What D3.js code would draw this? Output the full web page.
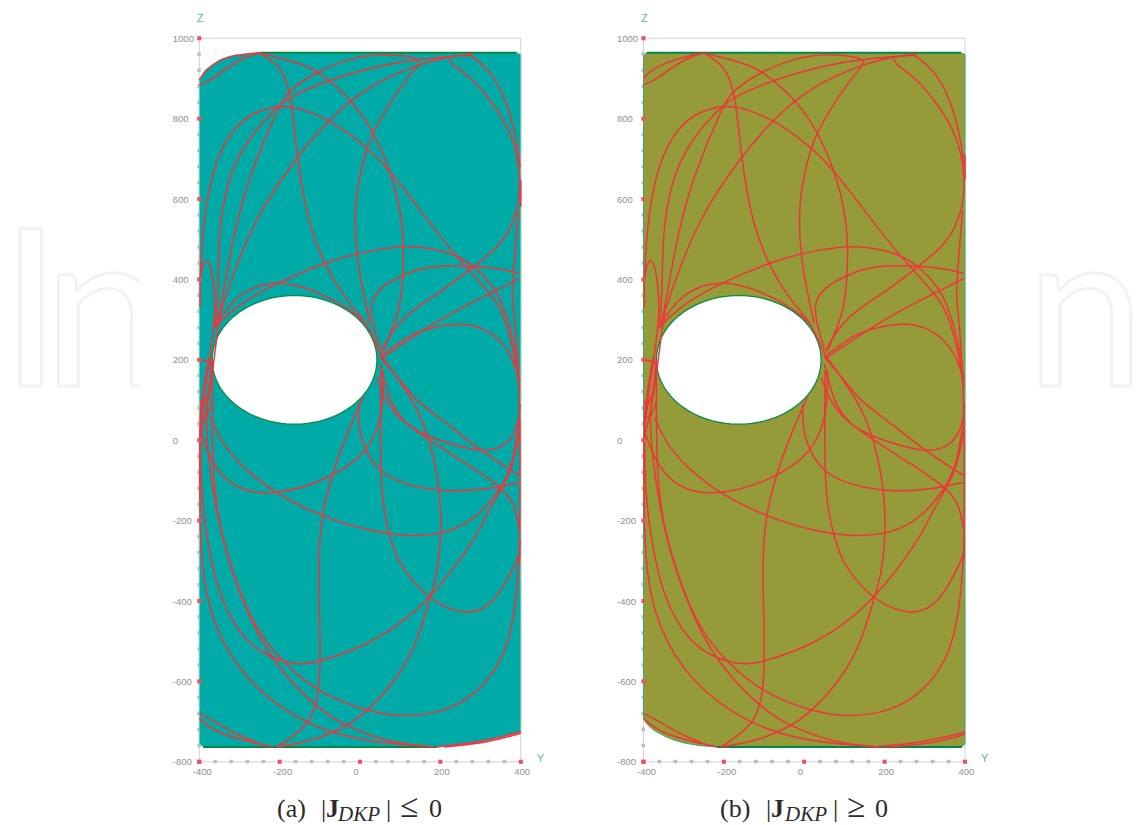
<!DOCTYPE html>
<html><head><meta charset="utf-8">
<style>html,body{margin:0;background:#fff;overflow:hidden}svg{display:block}</style>
<script src="https://cdn.jsdelivr.net/npm/d3@7"></script></head>
<body><svg id="c" width="1145" height="825"></svg>
<script>
const zMajor=[1000,800,600,400,200,0,-200,-400,-600,-800];
const yMajor=[-400,-200,0,200,400];
const zMinor=d3.range(-800,1001,40);
const yMinor=d3.range(-400,401,40);
const panelTitles=[["(a)","≤"],["(b)","≥"]];

const holeCenter=[-163,200];
const holeRadii=[205,160];

const outlineA=[[-400,896],[-385,921],[-350,946],[-315,958],[-250,964],[390,964],[400,960],[400,-725],[350,-740],[307,-750],[250,-758],[190,-763],[-390,-763],[-400,-755]];
const outlineB=[[-400,955],[-392,964],[390,964],[400,960],[400,-755],[392,-763],[-217,-763],[-259,-760],[-295,-754],[-325,-746],[-350,-735],[-375,-721],[-390,-708],[-400,-692]];

const curveA=[[-400,884],[-369,896],[-324,933],[-274,958],[-249,963]];
const curveB=[[-249,963],[-203,934],[-183,896],[-170,838],[-162,763],[-156,705],[-141,606],[-124,531],[-91,440],[-41,357],[8,302],[25,273],[50,215]];
const curveC=[[-249,963],[-149,938],[-104,919],[-21,848],[33,769],[75,672],[100,581],[110,482],[105,375],[96,315],[58,223]];
const curveD1=[[-398,330],[-398,431],[-386,581],[-357,705],[-315,776],[-266,817],[-199,834],[-149,826],[-75,797],[17,730],[75,672],[224,473],[266,431],[307,382],[349,339],[382,231],[397,132]];
const curveD2=[[-361,281],[-353,357],[-353,514],[-332,639],[-290,739],[-207,830],[-174,855],[-75,898],[58,934],[141,948],[274,958]];
const curveD3=[[-357,281],[-342,357],[-315,514],[-274,664],[-203,830],[-178,871],[-104,919],[-25,950],[58,963],[141,952],[150,942],[145,934]];
const curveD4=[[-357,286],[-336,357],[-266,548],[-158,705],[-79,797],[17,880],[141,934],[216,954],[282,961]];
const curveE=[[145,934],[83,855],[33,768],[17,730],[-8,631],[-14,548],[-8,456],[8,365],[25,290]];
const curveF=[[222,950],[228,934],[274,905],[332,838],[382,755],[400,664],[396,573],[357,490],[286,434],[208,373],[116,315],[75,265],[50,215]];
const curveG=[[274,958],[324,921],[365,846],[390,747],[398,680]];
const curveH1=[[-357,286],[-290,348],[-191,398],[-91,440],[-8,465],[83,482],[158,482],[232,465],[286,434],[340,373],[357,331],[382,256],[397,149]];
const curveH2=[[-361,281],[-315,356],[-241,392],[-174,392],[-91,364],[-8,315],[17,286]];
const curveI=[[397,415],[340,430],[224,436],[158,430],[108,411],[58,386],[33,357],[25,331],[33,281],[50,227]];
const curveJ=[[397,402],[307,357],[191,298],[58,207]];
const curveK=[[50,207],[125,265],[183,281],[257,294],[324,273],[374,223],[397,149]];
const curveL1=[[50,207],[108,140],[141,95],[224,37],[299,-26],[397,-88]];
const curveL2=[[42,157],[66,90],[116,37],[174,7],[249,-17],[315,-30],[365,-13],[394,32],[398,90]];
const curveL3=[[50,190],[75,90],[108,45],[174,-1],[266,-59],[353,-117],[386,-159],[397,-225]];
const curveM=[[-4,90],[-4,24],[17,-34],[50,-80],[108,-109],[199,-128],[307,-125],[394,-105]];
const curveN=[[58,173],[58,57],[17,-34],[-75,-96],[-207,-138],[-307,-125],[-365,-67],[-398,24]];
const curveO=[[-373,57],[-340,-17],[-274,-84],[-207,-134],[-100,-188],[17,-225],[141,-244],[266,-221],[349,-125],[378,-67],[397,49]];
const curveP=[[52,173],[50,-75],[58,-175],[83,-275],[108,-323],[170,-397],[266,-440],[340,-406],[398,-281]];
const curveQ=[[8,107],[-41,-1],[-91,-150],[-104,-275],[-102,-397],[-98,-551],[-104,-638],[-124,-709],[-207,-763]];
const curveR2=[[50,215],[141,90],[174,-1],[199,-117],[203,-240],[191,-339],[170,-406],[141,-505],[91,-597],[17,-675],[-33,-713],[-124,-750],[-207,-763]];
const curveR=[[398,-248],[394,-331],[382,-456],[349,-563],[274,-646],[191,-680],[100,-689],[8,-671],[-100,-630],[-191,-555],[-274,-456],[-344,-248],[-365,-130],[-378,-40],[-385,60],[-375,130],[-368,200]];
const curveT=[[397,24],[378,-75],[353,-117],[307,-200],[286,-248],[174,-397],[91,-464],[8,-514],[-100,-551],[-149,-560],[-224,-543],[-290,-497],[-349,-397],[-382,-248],[-396,-120],[-398,20],[-392,120],[-375,210]];
const curveU=[[-368,190],[-368,50],[-366,-100],[-346,-248],[-282,-431],[-216,-555],[-108,-667],[-33,-713],[75,-753],[183,-763]];
const curveV=[[-395,100],[-399,30],[-399,-100],[-398,-248],[-386,-389],[-340,-514],[-266,-613],[-166,-688],[-58,-734],[58,-754],[183,-763]];
const curveW1=[[-400,-692],[-369,-721],[-299,-746],[-216,-763]];
const curveW2=[[-400,-680],[-373,-692],[-315,-729],[-241,-759]];
const curveRv=[[394,573],[382,431],[378,348],[382,339],[394,173],[398,49],[398,-100],[397,-300]];
const curveBump=[[-398,400],[-390,450],[-373,446],[-365,390],[-361,348],[-362,300],[-372,220],[-385,130],[-396,40]];
const curveLoop=[[-398,200],[-385,197],[-372,197],[-367,180],[-373,120],[-388,90],[-397,70],[-392,50],[-375,70],[-367,100]];
const curveCross=[[-398,5],[-385,60],[-372,130],[-360,230],[-345,340]];

const sharedCurves=[curveA,curveB,curveC,curveD1,curveD2,curveD3,curveD4,curveE,curveF,curveG,curveH1,curveH2,curveI,curveJ,curveK,curveL1,curveL2,curveL3,curveM,curveN,curveO,curveP,curveQ,curveR2,curveR,curveT,curveU,curveV,curveW2,curveRv,curveBump,curveLoop,curveCross];

const edgeA=[[-400,896],[-385,921],[-350,946],[-315,958],[-250,964]];
const arcA1=[[190,-763],[307,-750],[400,-725]];
const arcA2=[[210,-763],[320,-752],[400,-729]];
const extraB=[[-400,900],[-378,925],[-320,948],[-265,962]];
const arcB1=[[170,-763],[300,-752],[400,-726]];
const arcB2=[[200,-763],[320,-755],[400,-731]];
const rightRedA=[[400,647],[400,581]];
const rightRedB=[[400,710],[400,650]];

const panels=[
 {x0:199.3,x1:520.8,fill:"#00aba7",outline:outlineA,extra:[edgeA,curveW1,arcA1,arcA2,rightRedA],idx:0,cap:[277,321,326,338,386,400,429]},
 {x0:643.5,x1:965,fill:"#949b38",outline:outlineB,extra:[extraB,curveW1,arcB1,arcB2,rightRedB],idx:1,cap:[720,766,771,785,833,847,875]}
];

const svg=d3.select("#c");
// watermark, only visible at the outer margins
const wmClip=svg.append("defs").append("clipPath").attr("id","wm");
wmClip.append("rect").attr("x",0).attr("y",200).attr("width",140).attr("height",220);
wmClip.append("rect").attr("x",1023).attr("y",200).attr("width",122).attr("height",220);
const wmStyle=s=>s.attr("clip-path","url(#wm)").attr("y",386).attr("font-family","Lato").attr("font-size",220)
  .attr("fill","#fff").attr("stroke","#f1f2f2").attr("stroke-width",3).attr("stroke-linejoin","round");
svg.append("text").text("In").attr("x",0).attr("letter-spacing",-17).call(wmStyle);
svg.append("text").text("en").attr("x",913).attr("textLength",232).attr("lengthAdjust","spacingAndGlyphs").call(wmStyle);

const zScale=d3.scaleLinear().domain([-800,1000]).range([761.8,38.3]);
const line=(x)=>d3.line().x(d=>x(d[0])).y(d=>zScale(d[1])).curve(d3.curveBasis);

panels.forEach(p=>{
 const x=d3.scaleLinear().domain([-400,400]).range([p.x0,p.x1]);
 const g=svg.append("g");
 g.append("rect").attr("x",x(-400)).attr("y",zScale(1000)).attr("width",x(400)-x(-400)).attr("height",zScale(-800)-zScale(1000))
  .attr("fill","none").attr("stroke","#d2d2d6").attr("stroke-width",1);
 g.selectAll(".mz").data(zMinor).join("rect").attr("x",x(-400)-2).attr("y",d=>zScale(d)-2).attr("width",3.5).attr("height",3.5).attr("fill","#bcbcc2");
 g.selectAll(".my").data(yMinor).join("rect").attr("x",d=>x(d)-2).attr("y",zScale(-800)-2).attr("width",3.5).attr("height",3.5).attr("fill","#bcbcc2");
 const areaPath=d3.line().x(d=>x(d[0])).y(d=>zScale(d[1]));
 const e=d3.line().x(d=>x(holeCenter[0]+holeRadii[0]*Math.cos(d))).y(d=>zScale(holeCenter[1]+holeRadii[1]*Math.sin(d)));
 const angles=d3.range(0,Math.PI*2,Math.PI/60);
 g.append("path").attr("d",areaPath(p.outline)+"Z").attr("fill",p.fill).attr("stroke",p.idx?"#3aa87a":"#7cc8a8").attr("stroke-width",1);
 g.append("path").attr("d",e(angles)+"Z").attr("fill","#fff").attr("stroke","#0a8a4a").attr("stroke-width",1.3);
 g.append("line").attr("x1",x(p.idx?-392:-250)).attr("x2",x(390)).attr("y1",zScale(964)).attr("y2",zScale(964)).attr("stroke","#00884a").attr("stroke-width",2);
 g.append("line").attr("x1",x(p.idx?-217:-390)).attr("x2",x(p.idx?392:190)).attr("y1",zScale(-763)).attr("y2",zScale(-763)).attr("stroke","#00884a").attr("stroke-width",2);
 g.selectAll(".c").data(sharedCurves.concat(p.extra)).join("path")
  .attr("d",line(x)).attr("fill","none").attr("stroke","#f0343c").attr("stroke-width",1.5);
 g.selectAll(".Mz").data(zMajor).join("rect").attr("x",x(-400)-2).attr("y",d=>zScale(d)-2).attr("width",4).attr("height",4).attr("fill","#f4505c");
 g.selectAll(".My").data(yMajor).join("rect").attr("x",d=>x(d)-2).attr("y",zScale(-800)-2).attr("width",4).attr("height",4).attr("fill","#f4505c");
 g.selectAll(".lz").data(zMajor).join("text").text(d=>d).attr("x",x(-400)-26.5).attr("y",d=>zScale(d)+3.5)
  .attr("font-family","Liberation Sans").attr("font-size",9.5).attr("fill","#8f8f94");
 g.selectAll(".ly").data(yMajor).join("text").text(d=>d).attr("x",d=>x(d)-6.5).attr("y",zScale(-800)+13.5)
  .attr("font-family","Liberation Sans").attr("font-size",9.5).attr("fill","#8f8f94");
 g.append("text").text("Z").attr("x",x(-400)-2.5).attr("y",21.5).attr("font-family","Liberation Sans").attr("font-size",11).attr("fill","#5dbb8e");
 g.append("text").text("Y").attr("x",x(400)+16).attr("y",762).attr("font-family","Liberation Sans").attr("font-size",11).attr("fill","#5dbb8e");
 const c=p.cap;
 const t=svg.append("text").attr("y",817).attr("font-family","Liberation Serif").attr("font-size",26).attr("fill","#2b2b2b");
 t.append("tspan").attr("x",c[0]).text(panelTitles[p.idx][0]);
 t.append("tspan").attr("x",c[1]).text("|");
 t.append("tspan").attr("x",c[2]).text("J").attr("font-weight","bold");
 t.append("tspan").attr("x",c[3]).text("DKP").attr("font-style","italic").attr("font-size",21).attr("dy",4);
 t.append("tspan").attr("x",c[4]).text("|").attr("dy",-4);
 t.append("tspan").attr("x",c[5]).text(panelTitles[p.idx][1]).attr("font-size",33);
 t.append("tspan").attr("x",c[6]).text("0");
});
</script></body></html>
